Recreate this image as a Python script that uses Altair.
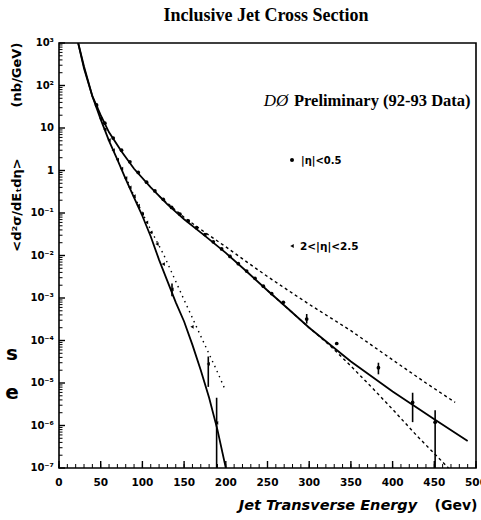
import altair as alt
import pandas as pd

# ---------------- data ----------------
# central (|eta|<0.5) theory, solid
c_th_E = [23, 30, 40, 50, 60, 75, 90, 110, 130, 150, 175, 200, 225, 250, 275, 300, 350, 400, 450, 490]
c_th_S = [1e3, 2.5e2, 5.6e1, 2.0e1, 7.9, 2.8, 1.1, 4.0e-1, 1.6e-1, 7.1e-2, 2.9e-2, 1.15e-2,
          4.2e-3, 1.5e-3, 5.5e-4, 2.0e-4, 3.2e-5, 6.3e-6, 1.4e-6, 4.3e-7]
# central upper band, dashed
c_hi_E = [120, 150, 175, 200, 225, 250, 275, 300, 350, 400, 440, 475]
c_hi_S = [2.5e-1, 7.9e-2, 3.5e-2, 1.6e-2, 7.1e-3, 3.2e-3, 1.5e-3, 7.1e-4, 1.7e-4, 3.5e-5, 1.0e-5, 3.5e-6]
# central lower band, dashed
c_lo_E = [250, 275, 300, 325, 350, 375, 400, 430, 467]
c_lo_S = [1.5e-3, 5.5e-4, 2.0e-4, 7.6e-5, 2.5e-5, 7.9e-6, 2.4e-6, 5.5e-7, 1.0e-7]
# central data points (dots) and error bars
c_pt_E = [45, 55, 65, 75, 85, 95, 105, 115, 125, 135, 145, 155, 165, 175, 185, 195, 205, 215,
          225, 235, 245, 255, 269, 297, 333, 383, 424, 451]
c_pt_S = [35, 13, 5.8, 3.0, 1.6, 0.9, 0.53, 0.33, 0.21, 0.135, 0.094, 0.065, 0.045, 0.031,
          0.021, 0.0143, 0.0095, 0.0064, 0.0043, 0.0029, 0.0019, 0.00127, 7.9e-4, 3.2e-4,
          8.5e-5, 2.3e-5, 3.5e-6, 1.2e-6]
c_err_E = [297, 383, 424, 451]
c_err_hi = [4.2e-4, 3.0e-5, 5.9e-6, 2.3e-6]
c_err_lo = [2.5e-4, 1.6e-5, 1.2e-6, 1.0e-7]

# forward (2<|eta|<2.5) theory, solid
f_th_E = [23, 30, 40, 50, 60, 70, 80, 90, 100, 110, 120, 130, 140, 150, 160, 170, 180, 190, 200]
f_th_S = [1e3, 2.8e2, 5.6e1, 1.6e1, 5.0, 1.8, 6.3e-1, 2.3e-1, 8.5e-2, 2.8e-2, 7.9e-3, 2.5e-3,
          7.9e-4, 2.8e-4, 7.9e-5, 2.0e-5, 4.5e-6, 7.9e-7, 1.0e-7]
# forward band, dotted
f_dt_E = [80, 90, 100, 110, 125, 149, 169, 189, 198]
f_dt_S = [7.1e-1, 2.5e-1, 1.0e-1, 4.0e-2, 1.1e-2, 1.0e-3, 1.4e-4, 2.0e-5, 7.9e-6]
# forward data points (triangles) and error bars
f_pt_E = [45, 50, 55, 60, 65, 70, 75, 80, 85, 90, 95, 100, 105, 110, 117.5, 125, 135.5,
          159.5, 179, 189]
f_pt_S = [32, 16.5, 9.3, 5.2, 3.0, 1.8, 1.1, 0.66, 0.4, 0.25, 0.15, 0.095, 0.06, 0.035,
          0.0186, 6.3e-3, 1.6e-3, 2.1e-4, 2.8e-5, 1.15e-6]
f_err_E = [135.5, 179, 189]
f_err_hi = [2.2e-3, 4.2e-5, 4.5e-6]
f_err_lo = [1.1e-3, 8.1e-6, 1.0e-7]

# axes
x_tick_values = [0, 50, 100, 150, 200, 250, 300, 350, 400, 450, 500]
x_tick_labels = ["0", "50", "100", "150", "200", "250", "300", "350", "400", "450", "500"]
x_minor_values = list(range(0, 501, 10))
y_tick_values = [1e-7, 1e-6, 1e-5, 1e-4, 1e-3, 1e-2, 1e-1, 1, 10, 100, 1000]
y_tick_labels = ["10\u207b\u2077", "10\u207b\u2076", "10\u207b\u2075", "10\u207b\u2074",
                 "10\u207b\u00b3", "10\u207b\u00b2", "10\u207b\u00b9", "1", "10",
                 "10\u00b2", "10\u00b3"]
y_minor_values = [m * d for d in y_tick_values[:-1] for m in range(2, 10)]

# ---------------- layout ----------------
W, H = 417, 425
PL, PT = 59, 43
xs = alt.Scale(domain=[0, 500], nice=False, zero=False)
ys = alt.Scale(type="log", domain=[1e-7, 1e3], nice=False)
SANS = "DejaVu Sans"
SERIF = "Liberation Serif"


def X(f="E"):
    return alt.X(f"{f}:Q", scale=xs, axis=None)


def Y(f="S"):
    return alt.Y(f"{f}:Q", scale=ys, axis=None)


def curve(E, S, dash=None, width=1.8):
    kw = {"strokeDash": dash} if dash else {}
    return alt.Chart(pd.DataFrame({"E": E, "S": S})).mark_line(
        color="black", strokeWidth=width, clip=True, **kw).encode(x=X(), y=Y())


def points(E, S, shape, size):
    return alt.Chart(pd.DataFrame({"E": E, "S": S})).mark_point(
        shape=shape, size=size, filled=True, color="black", opacity=1, clip=True
    ).encode(x=X(), y=Y())


def bars(E, lo, hi):
    return alt.Chart(pd.DataFrame({"E": E, "lo": lo, "hi": hi})).mark_rule(
        color="black", strokeWidth=1.6, clip=True
    ).encode(x=X(), y=Y("lo"), y2="hi:Q")


def txt(s, x, y, size, font=SANS, weight="bold", style="normal", align="center",
        angle=0, baseline="alphabetic"):
    kw = {"angle": angle} if angle else {}
    return alt.Chart(pd.DataFrame({"a": [0]})).mark_text(
        text=s, font=font, fontSize=size, fontWeight=weight, fontStyle=style,
        align=align, baseline=baseline, color="black", **kw
    ).encode(x=alt.value(x - PL), y=alt.value(y - PT))


layers = [
    curve(c_th_E, c_th_S),
    curve(c_hi_E, c_hi_S, dash=[3, 3], width=1.4),
    curve(c_lo_E, c_lo_S, dash=[3, 3], width=1.4),
    curve(f_th_E, f_th_S),
    curve(f_dt_E, f_dt_S, dash=[1.5, 4], width=1.4),
    points(c_pt_E, c_pt_S, "circle", 14),
    bars(c_err_E, c_err_lo, c_err_hi),
    points(f_pt_E, f_pt_S, "triangle-left", 14),
    bars(f_err_E, f_err_lo, f_err_hi),
]

# inward ticks
ymaj = pd.DataFrame({"v": y_tick_values, "t": y_tick_labels})
xmaj = pd.DataFrame({"v": x_tick_values, "t": x_tick_labels})
layers += [
    alt.Chart(ymaj).mark_rule(color="black", strokeWidth=1.4).encode(
        y=Y("v"), x=alt.value(0), x2=alt.value(6)),
    alt.Chart(pd.DataFrame({"v": y_minor_values})).mark_rule(color="black", strokeWidth=1).encode(
        y=Y("v"), x=alt.value(0), x2=alt.value(3.5)),
    alt.Chart(xmaj).mark_rule(color="black", strokeWidth=1.4).encode(
        x=X("v"), y=alt.value(H), y2=alt.value(H - 7)),
    alt.Chart(pd.DataFrame({"v": x_minor_values})).mark_rule(color="black", strokeWidth=1).encode(
        x=X("v"), y=alt.value(H), y2=alt.value(H - 4)),
    alt.Chart(ymaj).mark_text(font=SANS, fontSize=10, fontWeight="bold", align="right",
                              baseline="middle", color="black").encode(
        y=Y("v"), x=alt.value(-5), text="t:N"),
    alt.Chart(xmaj).mark_text(font=SANS, fontSize=10.5, fontWeight="bold", align="center",
                              baseline="alphabetic", color="black").encode(
        x=X("v"), y=alt.value(H + 18), text="t:N"),
]

# text annotations
layers += [
    txt("Inclusive Jet Cross Section", 266, 21, 18, font=SERIF),
    txt("D\u00d8", 276, 106, 17, font=SERIF, weight="normal", style="italic"),
    txt("Preliminary (92-93 Data)", 294, 106, 16.5, font=SERIF, align="left"),
    txt("|\u03b7|<0.5", 301, 164, 10, align="left"),
    txt("2<|\u03b7|<2.5", 300, 250, 10.5, align="left"),
    txt("Jet Transverse Energy", 328, 510, 14.5, style="italic"),
    txt("(Gev)", 456, 510, 14),
    txt("(nb/GeV)", 21, 75, 13, angle=270),
    txt("<d\u00b2\u03c3/dE\u209cd\u03b7>", 21, 205, 13, angle=270),
    txt("s", 12, 360, 20),
    txt("e", 12, 399, 20),
]
# legend markers
layers += [
    alt.Chart(pd.DataFrame({"a": [0]})).mark_point(shape="circle", size=16, filled=True,
                                                   color="black", opacity=1).encode(
        x=alt.value(292 - PL), y=alt.value(160 - PT)),
    alt.Chart(pd.DataFrame({"a": [0]})).mark_point(shape="triangle-left", size=16, filled=True,
                                                   color="black", opacity=1).encode(
        x=alt.value(292 - PL), y=alt.value(246 - PT)),
]

chart = alt.layer(*layers).properties(
    width=W, height=H,
    autosize=alt.AutoSizeParams(type="none"),
    padding={"left": PL, "top": PT, "right": 481 - PL - W, "bottom": 520 - PT - H},
    background="white",
).configure_view(stroke="black", strokeWidth=1.6)

chart.save("out.html", embed_options={"renderer": "svg", "actions": False})
